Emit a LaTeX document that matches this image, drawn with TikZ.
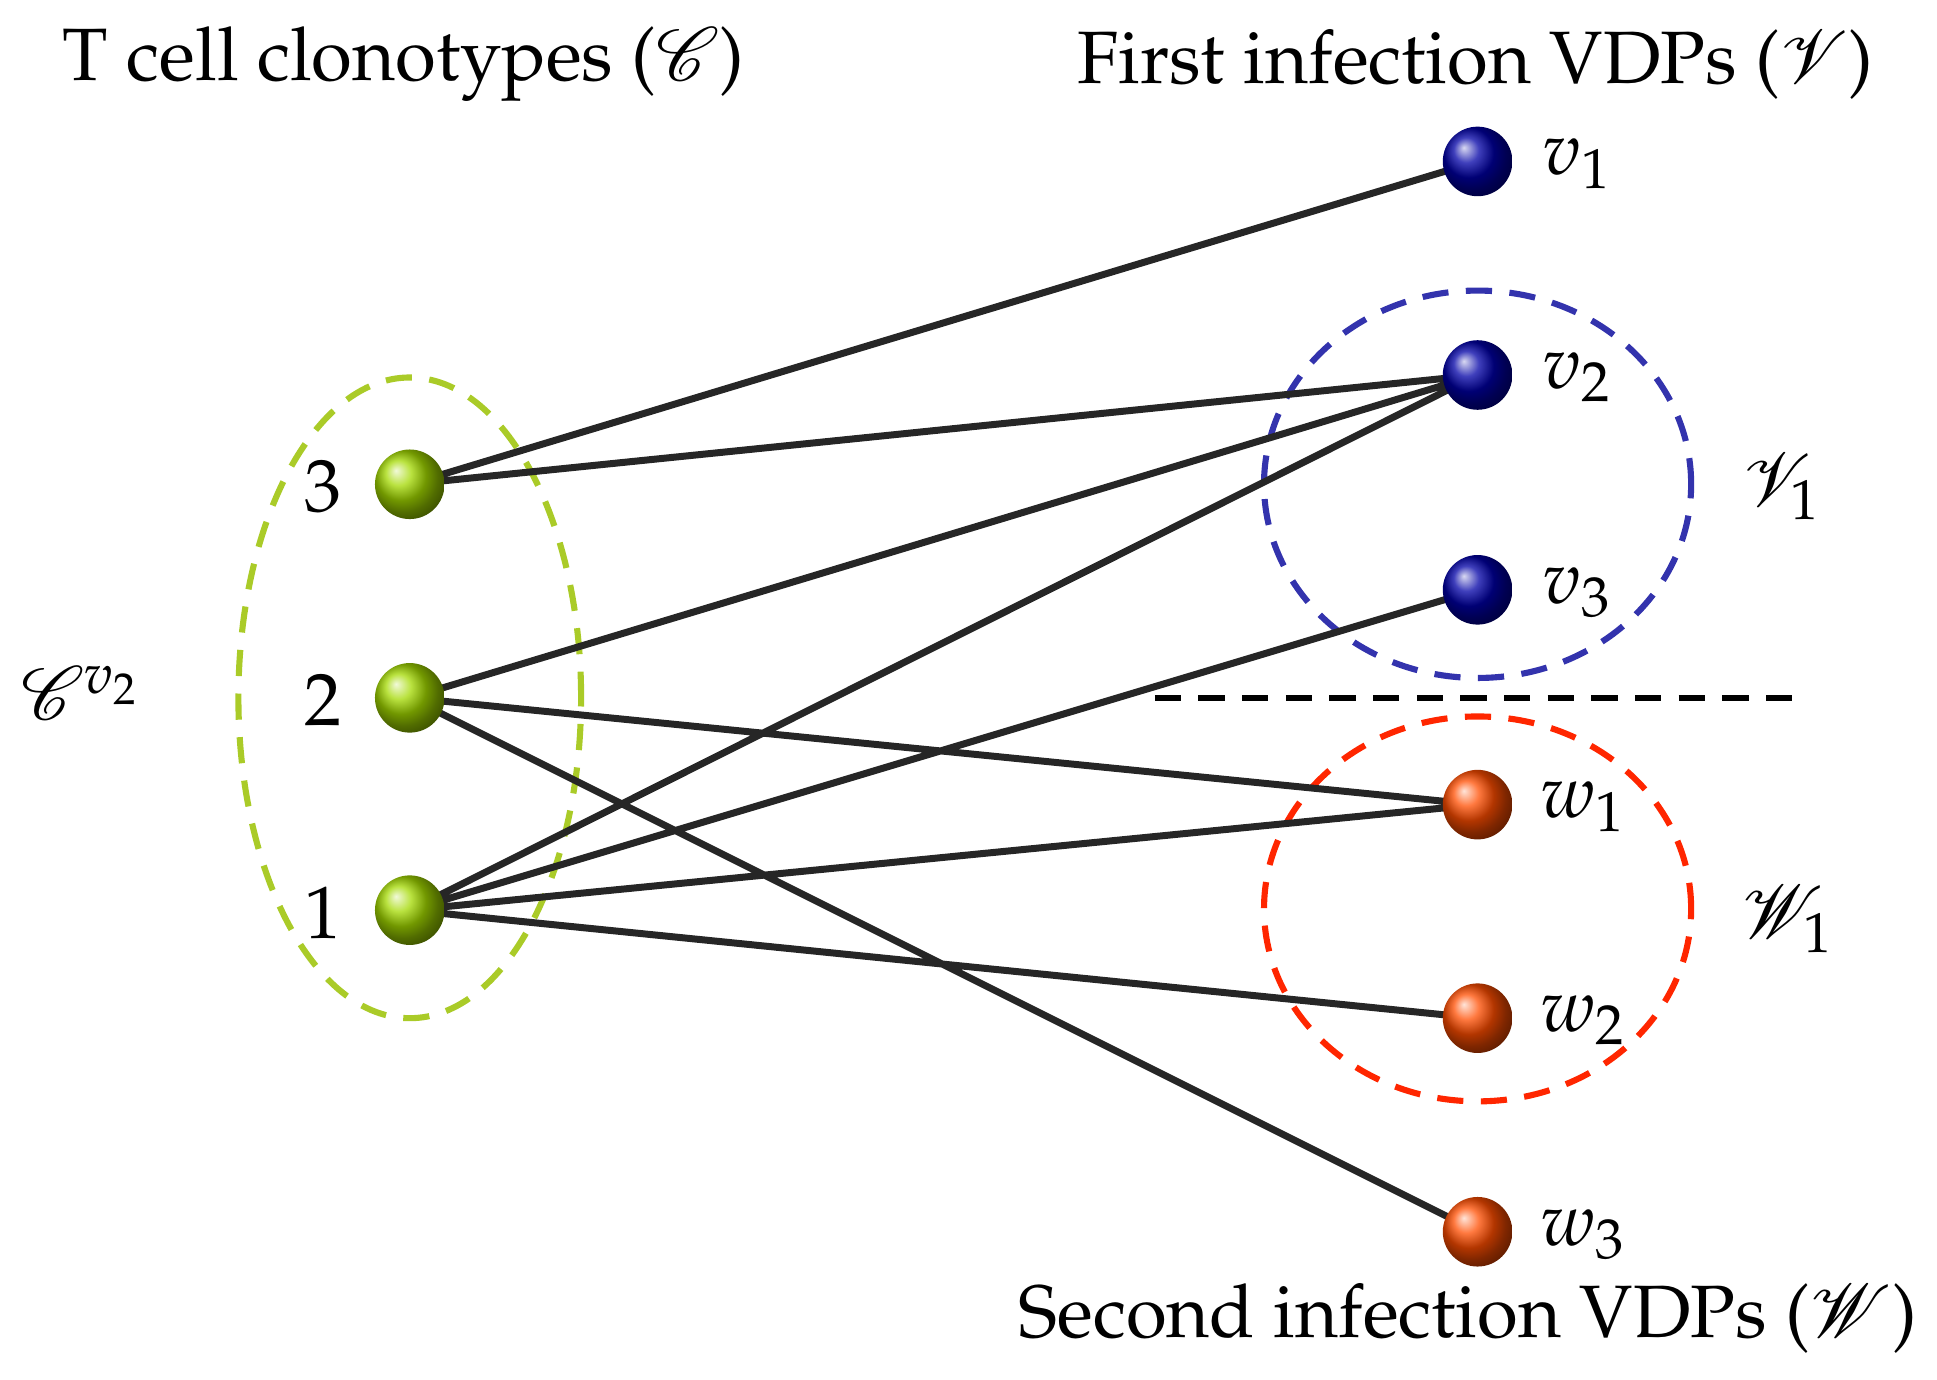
\documentclass[tikz,border=0pt]{standalone}
\usepackage[T1]{fontenc}
\usepackage{mathpazo}
\usepackage{mathrsfs}
\renewcommand{\rmdefault}{ppl}
\begin{document}
\begin{tikzpicture}[x=0.01cm,y=-0.01cm,
  ball/.style={circle,minimum size=0.56cm,inner sep=0pt,shading=ball},
  gb/.style={ball,ball color=yellow!75!green!85!black},
  bb/.style={ball,ball color=blue!65!black},
  rb/.style={ball,ball color=orange!60!red},
  lbl/.style={font=\fontsize{17}{20}\selectfont},
  edge/.style={line width=1.6pt,black!85},
  dsh/.style={line width=1.4pt,dash pattern=on 6pt off 4pt}]
\useasboundingbox (0,0) rectangle (1560,1111);
\draw[dsh,yellow!70!green!90!black] (330,562) ellipse [x radius=138,y radius=-258];
\draw[dsh,blue!60!black!80!white] (1190,390) ellipse [x radius=172,y radius=-156];
\draw[dsh,red!70!orange] (1190,732) ellipse [x radius=172,y radius=-155];
\draw[dsh,black] (930,562) -- (1450,562);
\coordinate (c3) at (330,390); \coordinate (c2) at (330,562); \coordinate (c1) at (330,733);
\coordinate (v1) at (1190,130); \coordinate (v2) at (1190,302); \coordinate (v3) at (1190,475);
\coordinate (w1) at (1190,648); \coordinate (w2) at (1190,820); \coordinate (w3) at (1190,992);
\draw[edge] (c3)--(v1) (c3)--(v2) (c2)--(v2) (c1)--(v2) (c1)--(v3) (c2)--(w1) (c1)--(w1) (c1)--(w2) (c2)--(w3);
\node[gb] (n3) at (c3) {}; \node[gb] (n2) at (c2) {}; \node[gb] (n1) at (c1) {};
\node[bb] (nv1) at (v1) {}; \node[bb] (nv2) at (v2) {}; \node[bb] (nv3) at (v3) {};
\node[rb] (nw1) at (w1) {}; \node[rb] (nw2) at (w2) {}; \node[rb] (nw3) at (w3) {};
\node[lbl] (l3) at (260,392) {3}; \node[lbl] (l2) at (260,564) {2}; \node[lbl] (l1) at (260,735) {1};
\node[lbl] (lv1) at (1270,132) {$v_1$}; \node[lbl] (lv2) at (1270,304) {$v_2$}; \node[lbl] (lv3) at (1270,477) {$v_3$};
\node[lbl] (lw1) at (1275,650) {$w_1$}; \node[lbl] (lw2) at (1275,822) {$w_2$}; \node[lbl] (lw3) at (1275,994) {$w_3$};
\node[lbl] (V1) at (1435,392) {$\mathscr{V}_1$};
\node[lbl] (W1) at (1440,740) {$\mathscr{W}_1$};
\node[lbl] (Cv) at (65,558) {$\mathscr{C}^{v_2}$};
\node[lbl] (t1) at (325,52) {T cell clonotypes ($\mathscr{C}$)};
\node[lbl] (t2) at (1188,52) {First infection VDPs ($\mathscr{V}$)};
\node[lbl] (t3) at (1182,1062) {Second infection VDPs ($\mathscr{W}$)};
\end{tikzpicture}
\end{document}
